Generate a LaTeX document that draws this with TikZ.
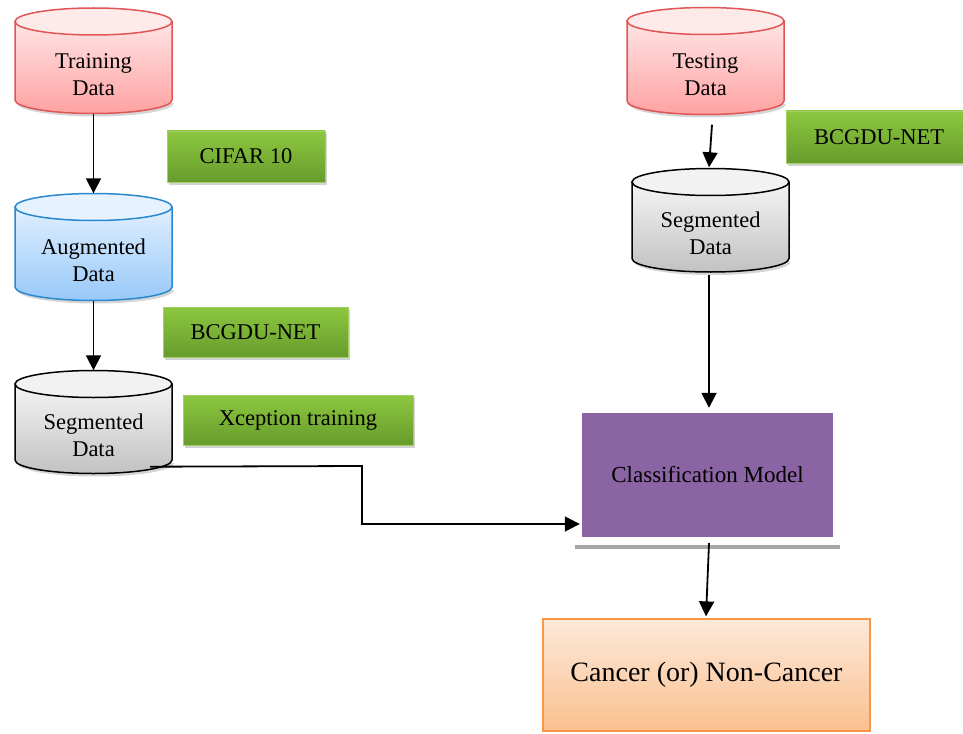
\documentclass[tikz,border=0pt]{standalone}
\usepackage{fontspec}
\setmainfont{Liberation Serif}
\usetikzlibrary{arrows.meta,shadows}

\definecolor{redline}{HTML}{E05555}
\definecolor{redtop}{HTML}{FFE4E4}
\definecolor{redbot}{HTML}{FFA2A2}
\definecolor{redcap}{HTML}{FFEAEA}
\definecolor{blueline}{HTML}{2A88CC}
\definecolor{bluetop}{HTML}{E0EFFF}
\definecolor{bluebot}{HTML}{98C9F9}
\definecolor{bluecap}{HTML}{E6F2FF}
\definecolor{grayline}{HTML}{000000}
\definecolor{graytop}{HTML}{F4F4F4}
\definecolor{graybot}{HTML}{C2C2C2}
\definecolor{graycap}{HTML}{F2F2F2}
\definecolor{greentop}{HTML}{8DC73F}
\definecolor{greenbot}{HTML}{679C2D}
\definecolor{greenedge}{HTML}{A3D065}
\definecolor{purplebox}{HTML}{8B64A4}
\definecolor{orangeline}{HTML}{F79646}
\definecolor{orangetop}{HTML}{FDE9DA}
\definecolor{orangebot}{HTML}{FAC08F}

\tikzset{
  cyltext/.style={align=center, inner sep=0pt, text=black,
    font=\fontsize{22.5}{27}\selectfont},
  cylshadow/.style={fill=black!30, opacity=.55},
  tagbox/.style={rectangle, draw=greenedge, line width=.6pt,
    top color=greentop, bottom color=greenbot, inner sep=0pt,
    font=\fontsize{22.5}{27}\selectfont,
    drop shadow={shadow xshift=2pt, shadow yshift=-3pt, fill=black!35, opacity=.5}},
  flow/.style={line width=1.8pt, -{Triangle[length=15pt,width=15pt]}},
}

% database cylinder: #1 name, #2 centre x, #3 y of top rim, #4 y of bottom rim,
% #5 colour prefix, #6 height of the outline node, #7 text
\newcommand\dbcyl[7]{%
  \fill[cylshadow] (#2-78.5+2,#4+3) arc[start angle=180,end angle=360,x radius=78.5pt,y radius=13.5pt] -- cycle;
  \path[draw=#5line, line width=1.5pt, top color=#5top, bottom color=#5bot]
    (#2-78.5,#3) -- (#2-78.5,#4)
    arc[start angle=180,end angle=360,x radius=78.5pt,y radius=13.5pt]
    -- (#2+78.5,#3) -- cycle;
  \draw[draw=#5line, line width=1.5pt, fill=#5cap] (#2,#3) ellipse[x radius=78.5pt,y radius=13.5pt];
  \node[inner sep=0pt, minimum width=157pt, minimum height=#6pt] (#1) at (#2,{(#3+#4)/2}) {};
  \node[cyltext] (#1-text) at (#2,{(#3+#4)/2+13.5}) {#7};
}

\begin{document}
\begin{tikzpicture}[x=1pt,y=-1pt]
\useasboundingbox (0,0) rectangle (963,733);
\begin{scope}
\clip (0,0) rectangle (963,733);

% data stores
\dbcyl{train}{93.5}{21.5}{100}{red}{105.5}{Training\\Data}
\dbcyl{augm}{93.5}{207}{287}{blue}{107}{Augmented\\Data}
\dbcyl{segl}{93.5}{384}{460}{gray}{103}{Segmented\\Data}
\dbcyl{test}{705.5}{21}{101}{red}{107}{Testing\\Data}
\dbcyl{segr}{710.5}{182}{258.5}{gray}{103.5}{Segmented\\Data}

% step labels
\node[tagbox, minimum width=158pt, minimum height=51pt] (cifar) at (246,156.5) {CIFAR 10};
\node[tagbox, minimum width=185pt, minimum height=50pt] (bcgl) at (255.5,332) {BCGDU-NET};
\node[tagbox, minimum width=230pt, minimum height=50pt] (xcep) at (298,420) {Xception training};
\node[tagbox, minimum width=186pt, minimum height=52pt] (bcgr) at (879,137) {BCGDU-NET};

% classifier
\fill[black!35] (575,545) rectangle (840,548.5);
\fill[white] (575,410) rectangle (582,545);
\node[rectangle, fill=purplebox, inner sep=0pt, minimum width=251pt, minimum height=124pt,
  font=\fontsize{23}{27}\selectfont] (clf) at (707.5,475) {Classification Model};

% result
\node[rectangle, draw=orangeline, line width=1.2pt, top color=orangetop, bottom color=orangebot,
  inner sep=0pt, minimum width=327pt, minimum height=112pt,
  font=\fontsize{28}{32}\selectfont] (out) at (706.5,675) {Cancer (or) Non-Cancer};

% flow
\draw[flow] (train.south) -- (augm.north);
\draw[flow] (augm.south) -- (segl.north);
\draw[flow] ([xshift=6.5pt,yshift=-10pt]test.south) -- ([xshift=-1.5pt,yshift=1pt]segr.north);
\draw[flow] ([xshift=-1.5pt,yshift=-3pt]segr.south) -- ([xshift=1.5pt,yshift=5pt]clf.north);
\coordinate (segl-out) at ([xshift=56.5pt,yshift=7pt]segl.south);
\draw[flow] (segl-out) -- (362,466) |- ([xshift=-2pt,yshift=-49pt]clf.west);
\draw[flow] ([xshift=1.5pt,yshift=-6pt]clf.south) -- ([xshift=-0.5pt,yshift=2pt]out.north);
\end{scope}
\end{tikzpicture}
\end{document}
